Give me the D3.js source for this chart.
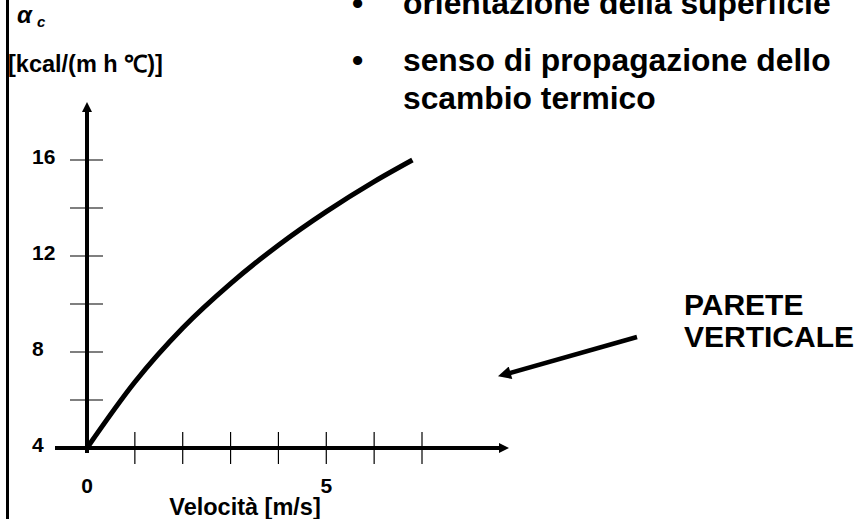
<!DOCTYPE html>
<html>
<head>
<meta charset="utf-8">
<script src="https://cdn.jsdelivr.net/npm/d3@7"></script>
<style>
  html, body { margin: 0; padding: 0; background: #fff; }
  svg text { font-family: "Liberation Sans", Arial, sans-serif; font-weight: bold; fill: #000; }
</style>
</head>
<body>
<div id="chart"></div>
<script>
// Curve: velocity [m/s] vs alpha_c [kcal/(m h C)]
const velocity = [0, 1, 2, 3, 4, 5, 6, 6.8];
const alphaC = [4, 6.75, 9.0, 10.85, 12.45, 13.85, 15.1, 16.0];

// Tick marks and labels
const xTickValues = [1, 2, 3, 4, 5, 6, 7];
const xLabelValues = [0, 5];
const yTickValues = [6, 8, 10, 12, 14, 16];
const yLabelValues = [4, 8, 12, 16];

const bulletLines = [
    ["orientazione della superficie"],
    ["senso di propagazione dello", "scambio termico"]
];
const noteLines = ["PARETE", "VERTICALE"];

const width = 863;
const height = 519;

const svg = d3.select("#chart")
    .append("svg")
    .attr("width", width)
    .attr("height", height);

// Scales
const x = d3.scaleLinear().domain([0, 7]).range([87, 422]);
const y = d3.scaleLinear().domain([4, 16]).range([448, 160]);

// Arrow markers
const defs = svg.append("defs");
defs.append("marker")
    .attr("id", "axis-head")
    .attr("viewBox", "0 0 10 10")
    .attr("refX", 1)
    .attr("refY", 5)
    .attr("markerUnits", "userSpaceOnUse")
    .attr("markerWidth", 11)
    .attr("markerHeight", 10)
    .attr("orient", "auto")
    .append("path")
    .attr("d", "M0,0 L10,5 L0,10 Z")
    .attr("fill", "#000");

defs.append("marker")
    .attr("id", "note-head")
    .attr("viewBox", "0 0 10 10")
    .attr("refX", 2)
    .attr("refY", 5)
    .attr("markerUnits", "userSpaceOnUse")
    .attr("markerWidth", 16)
    .attr("markerHeight", 13)
    .attr("orient", "auto")
    .append("path")
    .attr("d", "M0,0 L10,5 L0,10 Z")
    .attr("fill", "#000");

// Left border line
svg.append("line")
    .attr("x1", 7.5).attr("x2", 7.5)
    .attr("y1", 0).attr("y2", height)
    .attr("stroke", "#000")
    .attr("stroke-width", 3);

// Tick marks (crossing the axes)
svg.selectAll(".ytick")
    .data(yTickValues)
    .enter()
    .append("line")
    .attr("x1", x(0) - 17)
    .attr("x2", x(0) + 16)
    .attr("y1", d => y(d))
    .attr("y2", d => y(d))
    .attr("stroke", "#000")
    .attr("stroke-width", 1.2);

svg.selectAll(".xtick")
    .data(xTickValues)
    .enter()
    .append("line")
    .attr("x1", d => x(d))
    .attr("x2", d => x(d))
    .attr("y1", y(4) - 16)
    .attr("y2", y(4) + 16)
    .attr("stroke", "#000")
    .attr("stroke-width", 1.2);

// Axes with arrow heads
svg.append("line")
    .attr("x1", 55)
    .attr("x2", 500)
    .attr("y1", y(4))
    .attr("y2", y(4))
    .attr("stroke", "#000")
    .attr("stroke-width", 4)
    .attr("marker-end", "url(#axis-head)");

svg.append("line")
    .attr("x1", x(0))
    .attr("x2", x(0))
    .attr("y1", y(4) + 5)
    .attr("y2", 111)
    .attr("stroke", "#000")
    .attr("stroke-width", 4)
    .attr("marker-end", "url(#axis-head)");

// Tick labels
svg.selectAll(".ylabel")
    .data(yLabelValues)
    .enter()
    .append("text")
    .attr("x", 32)
    .attr("y", d => y(d) + 4)
    .style("font-size", "21px")
    .text(d => d);

svg.selectAll(".xlabel")
    .data(xLabelValues)
    .enter()
    .append("text")
    .attr("x", d => x(d))
    .attr("y", 493)
    .attr("text-anchor", "middle")
    .style("font-size", "21px")
    .text(d => d);

// Axis titles
svg.append("text")
    .attr("x", 245)
    .attr("y", 515)
    .attr("text-anchor", "middle")
    .style("font-size", "23.5px")
    .text("Velocità [m/s]");

svg.append("text")
    .attr("x", 17)
    .attr("y", 23)
    .style("font-size", "24px")
    .style("font-style", "italic")
    .text("α");

svg.append("text")
    .attr("x", 37)
    .attr("y", 27)
    .style("font-size", "15px")
    .style("font-style", "italic")
    .text("c");

svg.append("text")
    .attr("x", 8)
    .attr("y", 72)
    .style("font-size", "23.5px")
    .text("[kcal/(m h ℃)]");

// Curve
const line = d3.line()
    .x(d => x(d[0]))
    .y(d => y(d[1]))
    .curve(d3.curveMonotoneX);

svg.append("path")
    .datum(d3.zip(velocity, alphaC))
    .attr("d", line)
    .attr("fill", "none")
    .attr("stroke", "#000")
    .attr("stroke-width", 5);

// Bullet list
const bulletBaselines = [14, 71];
bulletLines.forEach((lines, i) => {
    svg.append("text")
        .attr("x", 352)
        .attr("y", bulletBaselines[i])
        .style("font-size", "32px")
        .text("•");
    lines.forEach((t, j) => {
        svg.append("text")
            .attr("x", 403)
            .attr("y", bulletBaselines[i] + j * 37.5)
            .style("font-size", "31.8px")
            .text(t);
    });
});

// Annotation
noteLines.forEach((t, i) => {
    svg.append("text")
        .attr("x", 684)
        .attr("y", 315 + i * 32)
        .style("font-size", "30px")
        .text(t);
});

svg.append("line")
    .attr("x1", 637)
    .attr("y1", 337)
    .attr("x2", 508)
    .attr("y2", 373.5)
    .attr("stroke", "#000")
    .attr("stroke-width", 4.5)
    .attr("marker-end", "url(#note-head)");
</script>
</body>
</html>
